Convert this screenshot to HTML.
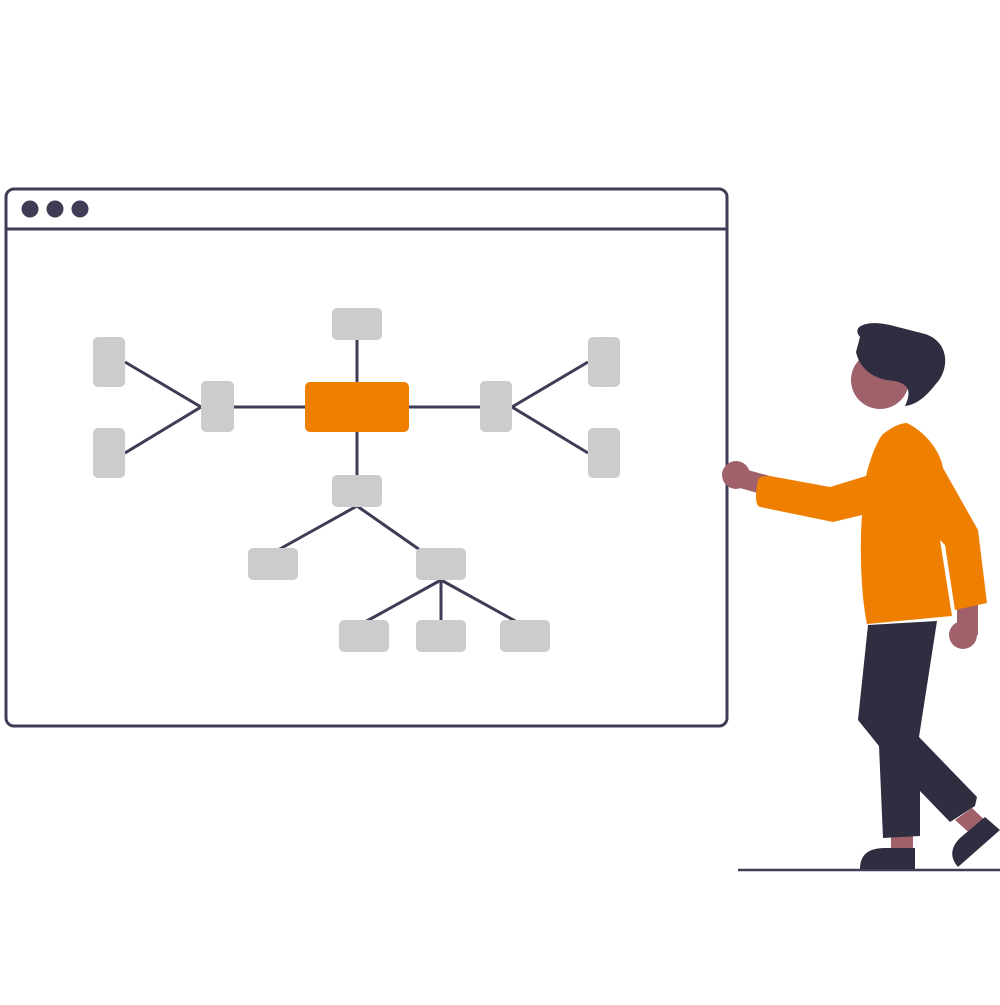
<!DOCTYPE html>
<html><head><style>html,body{margin:0;padding:0;background:#fff}</style></head>
<body>
<svg width="1000" height="1000" viewBox="0 0 1000 1000" xmlns="http://www.w3.org/2000/svg">
<rect x="6" y="189" width="721" height="537" rx="8" fill="#fff" stroke="#3f3d56" stroke-width="3"/>
<line x1="6" y1="229" x2="727" y2="229" stroke="#3f3d56" stroke-width="3"/>
<circle cx="30" cy="209" r="8.5" fill="#3f3d56"/>
<circle cx="55" cy="209" r="8.5" fill="#3f3d56"/>
<circle cx="80" cy="209" r="8.5" fill="#3f3d56"/>
<g stroke="#3f3d56" stroke-width="3" fill="none">
<line x1="357" y1="340" x2="357" y2="382"/>
<line x1="357" y1="432" x2="357" y2="475"/>
<line x1="234" y1="407" x2="305" y2="407"/>
<line x1="409" y1="407" x2="480" y2="407"/>
<polyline points="125,362 201,407 125,453"/>
<polyline points="588,362 512,407 588,453"/>
<polyline points="278,550 357,506 420,550"/>
<line x1="441" y1="580" x2="365" y2="622"/>
<line x1="441" y1="580" x2="441" y2="622"/>
<line x1="441" y1="580" x2="517" y2="622"/>
</g>
<rect x="305" y="382" width="104" height="50" rx="5" fill="#ef7f00"/>
<g fill="#cccccc">
<rect x="332" y="308" width="50" height="32" rx="5"/>
<rect x="201" y="381" width="33" height="51" rx="5"/>
<rect x="480" y="381" width="32" height="51" rx="5"/>
<rect x="93" y="337" width="32" height="50" rx="5"/>
<rect x="93" y="428" width="32" height="50" rx="5"/>
<rect x="588" y="337" width="32" height="50" rx="5"/>
<rect x="588" y="428" width="32" height="50" rx="5"/>
<rect x="332" y="475" width="50" height="32" rx="5"/>
<rect x="248" y="548" width="50" height="32" rx="5"/>
<rect x="416" y="548" width="50" height="32" rx="5"/>
<rect x="339" y="620" width="50" height="32" rx="5"/>
<rect x="416" y="620" width="50" height="32" rx="5"/>
<rect x="500" y="620" width="50" height="32" rx="5"/>
</g>
<line x1="738" y1="870" x2="1000" y2="870" stroke="#3f3d56" stroke-width="2.5"/>
<!-- person -->
<g fill="#a0616a">
<circle cx="880" cy="380" r="29"/>
<circle cx="736" cy="475" r="14"/>
<polygon points="740,468 770,476 768,496 740,488"/>
<circle cx="963" cy="635" r="14"/>
<rect x="957" y="605" width="21" height="30"/>
<rect x="891" y="830" width="22" height="20"/>
<polygon points="955,820 972,808 990,825 975,838"/>
</g>
<path d="M860,337 C850,325 870,320 890,325 L925,334 C950,342 950,370 935,385 C925,398 915,405 905,406 C910,395 912,385 895,381 C875,380 860,370 856,352 Z" fill="#2f2e41"/>
<polygon points="868,625 937,621 919,737 977,797 975,806 950,822 920,791 920,836 883,838 879,746 858,720" fill="#2f2e41"/>
<path d="M860,869 C860,855 868,848 885,848 L915,848 L915,869 Z" fill="#2f2e41"/>
<path d="M985,817 L1000,830 L958,867 C950,858 950,848 960,838 Z" fill="#2f2e41"/>
<path d="M882,435 C890,428 900,423 907,423 C925,432 940,450 943,468 L978,530 L987,603 L955,610 L945,545 L940,540 L952,616 L867,624 C860,590 860,540 862,515 L833,522 L760,507 C754,505 756,490 758,480 C760,476 765,476 770,476 L830,487 L866,476 C870,460 875,445 882,435 Z" fill="#ef7f00"/>
</svg>
</body></html>
